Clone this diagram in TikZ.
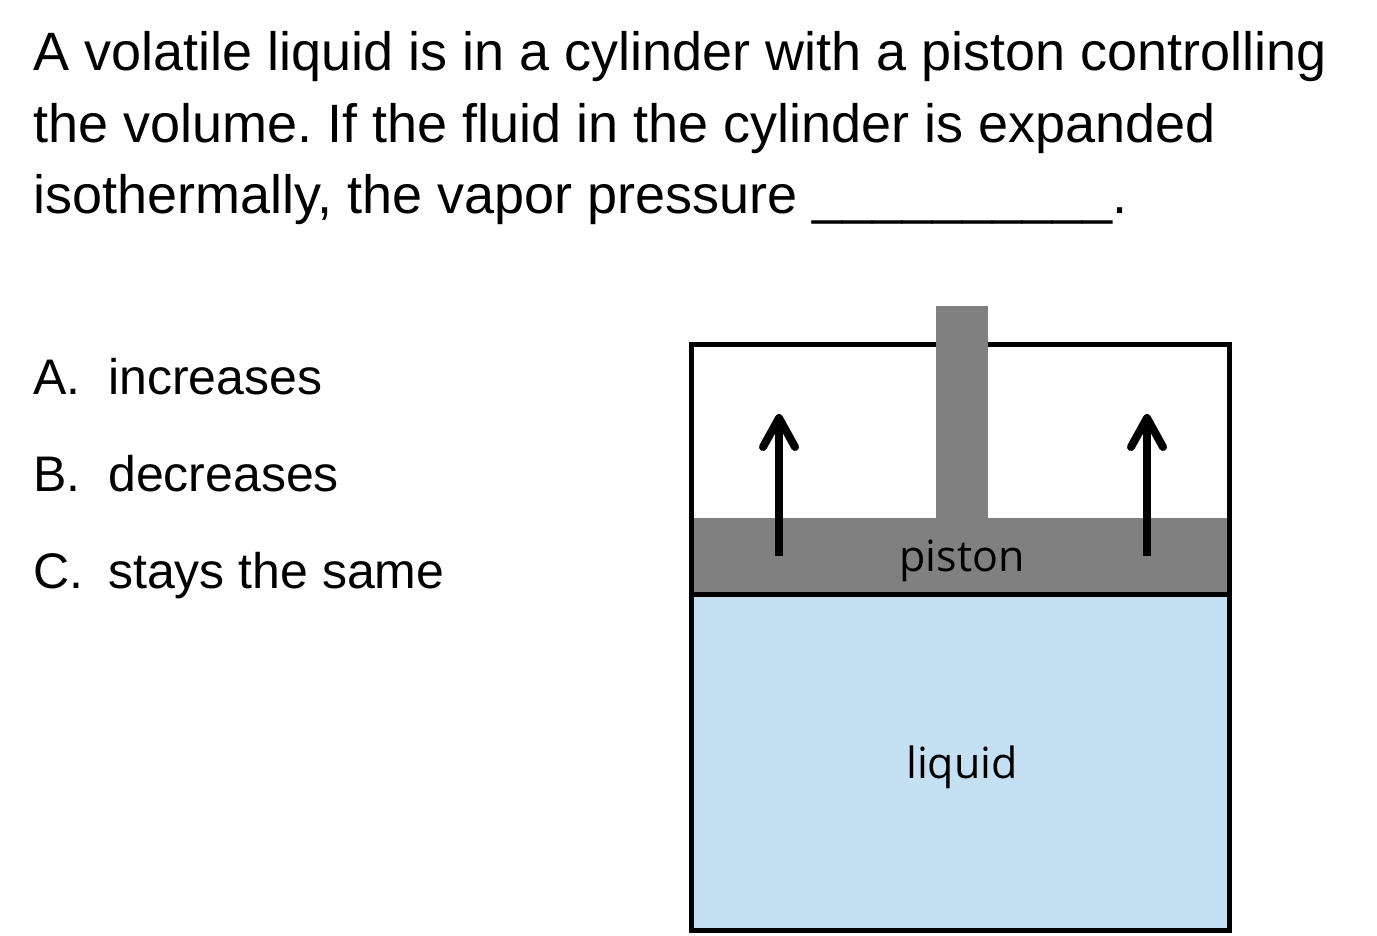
\documentclass[tikz,border=0pt]{standalone}
\usepackage{fontspec}
\setmainfont{Liberation Sans}
\newfontfamily\labelfont{Open Sans}
\definecolor{liquidblue}{HTML}{C5E0F2}
\definecolor{pistongray}{HTML}{808080}

\begin{document}
\begin{tikzpicture}[x=1pt,y=-1pt]
        \tikzset{question/.style={anchor=base west,inner sep=0pt,font=\fontsize{54}{64}\selectfont\frenchspacing},
            choice/.style={anchor=base west,inner sep=0pt,font=\fontsize{50}{60}\selectfont},
            partlabel/.style={inner sep=0pt,font=\labelfont\fontsize{43}{50}\selectfont},
            wall/.style={draw=black,line width=5pt},
            lift/.style={line width=8pt,line cap=round,line join=round}}
        \useasboundingbox (0,0) rectangle (1377,935);
        \node[question] (q1) at (33,70) {A volatile liquid is in a cylinder with a piston controlling};
        \node[question] (q2) at (33,142) {the volume. If the fluid in the cylinder is expanded};
        \node[question] (q3) at (33,213) {isothermally, the vapor pressure \_\_\_\_\_\_\_\_\_\_.};
        \foreach \i/\l/\t/\y in {a/A/increases/394,b/B/decreases/491,c/C/stays the same/588}
        {
            \node[choice] (letter\i) at (33,\y) {\l.};
            \node[choice] (choice\i) at (108,\y) {\t};
        }
        \fill[pistongray] (691,518) rectangle (1229,594);
        \fill[liquidblue] (691,594) rectangle (1229,930);
        \draw[wall] (691,344) rectangle (1229,930);
        \draw[wall] (691,594) -- (1229,594);
        \fill[pistongray] (936,306) rectangle (988,518);
        \node[partlabel] (piston) at (962,561) {piston};
        \node[partlabel] (liquid) at (962,767) {liquid};
        \coordinate (leftfoot) at (779,556);
        \coordinate (lefttip) at (779,418);
        \coordinate (rightfoot) at (1147,556);
        \coordinate (righttip) at (1147,418);
        \foreach \s in {left,right}
        {
            \draw[lift,line cap=butt] (\s foot) -- (\s tip);
            \draw[lift] (\s tip) ++(-16,29) -- (\s tip) -- ++(16,29);
        }
    \end{tikzpicture}
\end{document}
